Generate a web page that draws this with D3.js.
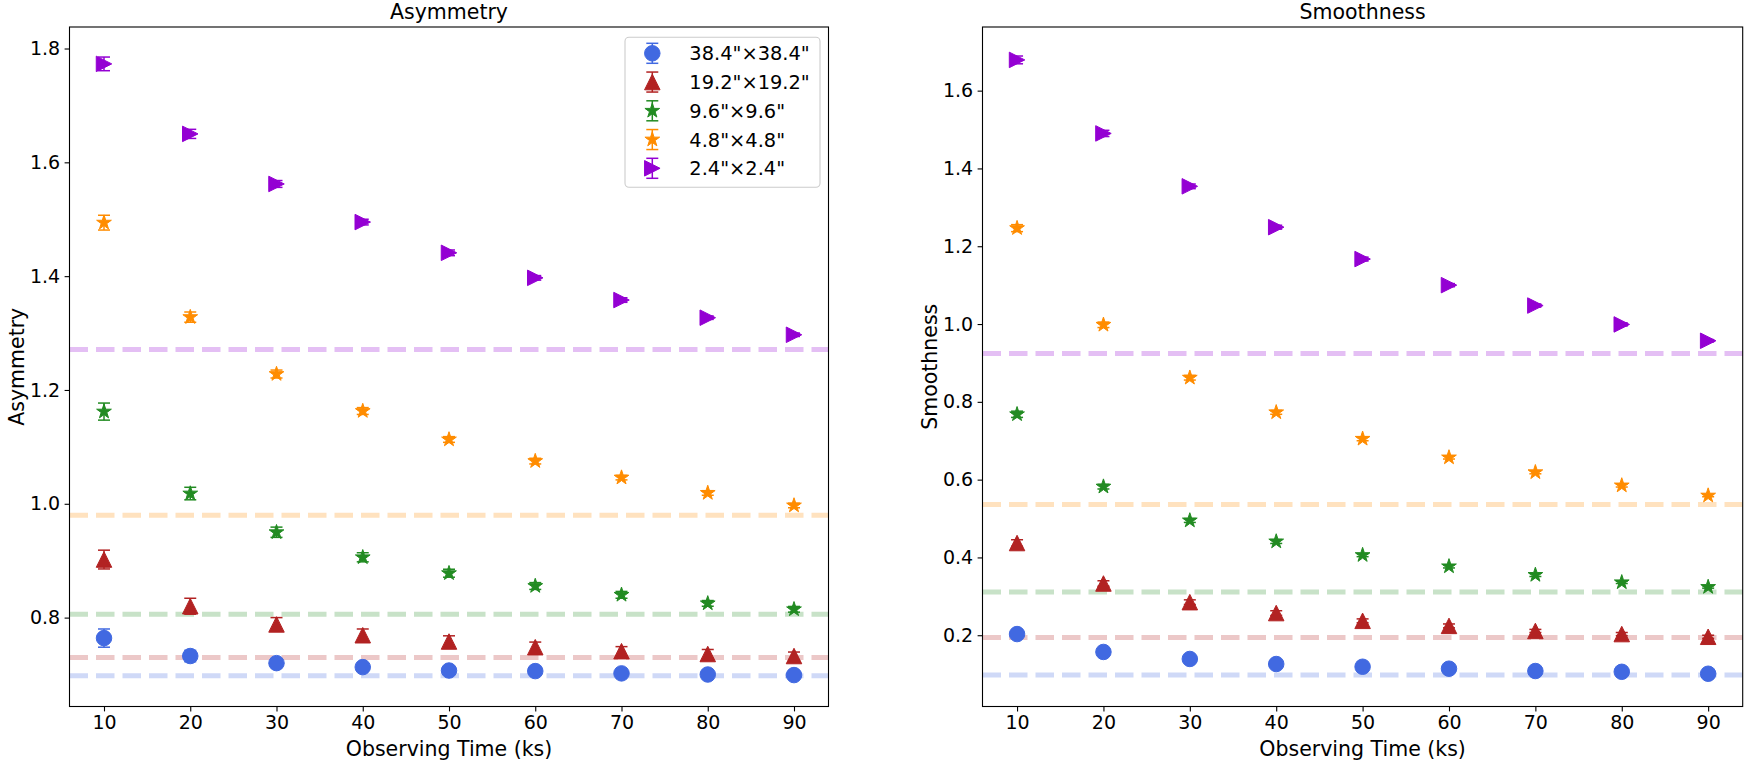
<!DOCTYPE html>
<html>
<head>
<meta charset="utf-8">
<script src="https://cdn.jsdelivr.net/npm/d3@7"></script>
<style>
  body { margin: 0; background: #fff; }
  text { font-family: "DejaVu Sans", sans-serif; fill: #000; }
</style>
</head>
<body>
<script>
 // observing times (ks)
 var times = [10, 20, 30, 40, 50, 60, 70, 80, 90];
 var labels = ['38.4"\u00d738.4"', '19.2"\u00d719.2"', '9.6"\u00d79.6"', '4.8"\u00d74.8"', '2.4"\u00d72.4"'];
 var colors = ['#4169E1', '#B22222', '#228B22', '#FF8C00', '#9400D3'];
 var shapes = ['circle', 'triangleUp', 'star', 'star', 'triangleRight'];
 var xTicks = [10, 20, 30, 40, 50, 60, 70, 80, 90];

 // asymmetry panel
 var asym38 = [0.764, 0.7325, 0.720, 0.713, 0.707, 0.706, 0.702, 0.700, 0.699];
 var asym19 = [0.902, 0.820, 0.788, 0.769, 0.758, 0.748, 0.741, 0.736, 0.7325];
 var asym96 = [1.162, 1.018, 0.950, 0.906, 0.878, 0.8555, 0.840, 0.825, 0.8146];
 var asym48 = [1.494, 1.328, 1.228, 1.163, 1.113, 1.075, 1.046, 1.019, 0.997];
 var asym24 = [1.773, 1.650, 1.562, 1.495, 1.441, 1.397, 1.358, 1.327, 1.297];
 var asymErr38 = [0.016, 0.010, 0.008, 0.007, 0.006, 0.005, 0.005, 0.004, 0.004];
 var asymErr19 = [0.0165, 0.014, 0.012, 0.011, 0.010, 0.009, 0.008, 0.008, 0.007];
 var asymErr96 = [0.015, 0.011, 0.009, 0.008, 0.007, 0.006, 0.006, 0.005, 0.005];
 var asymErr48 = [0.013, 0.009, 0.007, 0.006, 0.005, 0.005, 0.004, 0.004, 0.004];
 var asymErr24 = [0.012, 0.008, 0.006, 0.005, 0.005, 0.004, 0.004, 0.003, 0.003];
 var asymRef = [0.698, 0.730, 0.806, 0.980, 1.271];
 var asymTicks = [0.8, 1.0, 1.2, 1.4, 1.6, 1.8];
 var asymDomain = [0.6438, 1.8378];

 // smoothness panel
 var smooth38 = [0.203, 0.157, 0.139, 0.126, 0.119, 0.114, 0.108, 0.106, 0.101];
 var smooth19 = [0.437, 0.333, 0.285, 0.257, 0.237, 0.224, 0.211, 0.203, 0.196];
 var smooth96 = [0.768, 0.582, 0.495, 0.441, 0.406, 0.377, 0.355, 0.336, 0.324];
 var smooth48 = [1.2465, 0.998, 0.862, 0.773, 0.705, 0.657, 0.619, 0.585, 0.559];
 var smooth24 = [1.679, 1.490, 1.354, 1.249, 1.167, 1.100, 1.0475, 0.999, 0.957];
 var smoothErr38 = [0.006, 0.004, 0.004, 0.003, 0.003, 0.003, 0.002, 0.002, 0.002];
 var smoothErr19 = [0.0085, 0.007, 0.006, 0.006, 0.005, 0.005, 0.004, 0.004, 0.004];
 var smoothErr96 = [0.008, 0.006, 0.005, 0.005, 0.004, 0.004, 0.004, 0.003, 0.003];
 var smoothErr48 = [0.009, 0.007, 0.006, 0.005, 0.005, 0.004, 0.004, 0.004, 0.003];
 var smoothErr24 = [0.010, 0.008, 0.006, 0.005, 0.005, 0.004, 0.004, 0.004, 0.003];
 var smoothRef = [0.098, 0.194, 0.311, 0.536, 0.924];
 var smoothTicks = [0.2, 0.4, 0.6, 0.8, 1.0, 1.2, 1.4, 1.6];
 var smoothDomain = [0.0168, 1.7636];

 var W = 1750, H = 763;
 var plotTop = 27, plotBottom = 706.5;
 var msize = 16.5;
 var tickFont = 19, labelFont = 20.5, legendFont = 19.4;

 var svg = d3.select('body').append('svg')
     .attr('width', W).attr('height', H);

 // matplotlib-like marker outlines, centred on 0,0
 function markerPath(shape, m) {
     var r = m / 2;
     if (shape == 'circle') return d3.arc()({innerRadius: 0, outerRadius: r, startAngle: 0, endAngle: 2 * Math.PI});
     var pts;
     if (shape == 'triangleUp') pts = [[0, -r], [-r, r], [r, r]];
     else if (shape == 'triangleRight') pts = [[r, 0], [-r, -r], [-r, r]];
     else {
	 pts = [];
	 for (var k = 0; k < 10; k++) {
	     var rad = (k % 2 == 0) ? r : r * 0.381966;
	     var a = -Math.PI / 2 + k * Math.PI / 5;
	     pts.push([rad * Math.cos(a), rad * Math.sin(a)]);
	 }
     }
     return d3.line()(pts) + 'Z';
 }

 function drawPanel(p) {
     var g = svg.append('g');
     var x = d3.scaleLinear().domain([6, 94]).range([p.left, p.right]);
     var y = d3.scaleLinear().domain(p.domain).range([plotBottom, plotTop]);

     // reference levels, drawn under the points
     g.selectAll('line.ref')
	 .data(p.refs)
	 .enter().append('line')
	 .attr('class', 'ref')
	 .attr('x1', p.left).attr('x2', p.right)
	 .attr('y1', function(d) { return y(d); })
	 .attr('y2', function(d) { return y(d); })
	 .attr('stroke', function(d, i) { return colors[i]; })
	 .attr('stroke-opacity', 0.25)
	 .attr('stroke-width', 5)
	 .attr('stroke-dasharray', '18.5,8');

     p.series.forEach(function(vals, s) {
	 var errs = p.errs[s];
	 var pts = times.map(function(t, i) { return {t: t, v: vals[i], e: errs[i]}; });
	 var sg = g.append('g').attr('fill', colors[s]).attr('stroke', colors[s]);
	 sg.selectAll('line.bar').data(pts).enter().append('line')
	     .attr('x1', function(d) { return x(d.t); })
	     .attr('x2', function(d) { return x(d.t); })
	     .attr('y1', function(d) { return y(d.v - d.e); })
	     .attr('y2', function(d) { return y(d.v + d.e); })
	     .attr('stroke-width', 1.5);
	 [-1, 1].forEach(function(sign) {
	     sg.selectAll(null).data(pts).enter().append('line')
		 .attr('x1', function(d) { return x(d.t) - 6; })
		 .attr('x2', function(d) { return x(d.t) + 6; })
		 .attr('y1', function(d) { return y(d.v + sign * d.e); })
		 .attr('y2', function(d) { return y(d.v + sign * d.e); })
		 .attr('stroke-width', 1.5);
	 });
	 sg.selectAll('path').data(pts).enter().append('path')
	     .attr('d', markerPath(shapes[s], msize - 1))
	     .attr('stroke-width', 1)
	     .attr('transform', function(d) { return 'translate(' + x(d.t) + ',' + y(d.v) + ')'; });
     });

     // axes
     var xa = g.append('g').attr('transform', 'translate(0,' + plotBottom + ')')
	 .call(d3.axisBottom(x).tickValues(xTicks).tickSize(4.9).tickPadding(4.5).tickFormat(d3.format('d')));
     var ya = g.append('g').attr('transform', 'translate(' + p.left + ',0)')
	 .call(d3.axisLeft(y).tickValues(p.ticks).tickSize(4.9).tickPadding(4.5).tickFormat(d3.format('.1f')));
     [xa, ya].forEach(function(a) {
	 a.select('.domain').remove();
	 a.selectAll('.tick line').attr('stroke', '#000').attr('stroke-width', 1.1);
	 a.selectAll('.tick text').style('font-size', tickFont + 'px').attr('fill', '#000');
     });
     g.append('rect')
	 .attr('x', p.left).attr('y', plotTop)
	 .attr('width', p.right - p.left).attr('height', plotBottom - plotTop)
	 .attr('fill', 'none').attr('stroke', '#000').attr('stroke-width', 1.1);

     g.append('text')
	 .attr('x', (p.left + p.right) / 2).attr('y', 19)
	 .attr('text-anchor', 'middle')
	 .style('font-size', labelFont + 'px')
	 .text(p.title);
     g.append('text')
	 .attr('x', (p.left + p.right) / 2).attr('y', 756)
	 .attr('text-anchor', 'middle')
	 .style('font-size', labelFont + 'px')
	 .text('Observing Time (ks)');
     g.append('text')
	 .attr('transform', 'translate(' + (p.left - 45.5) + ',' + ((plotTop + plotBottom) / 2) + ') rotate(-90)')
	 .attr('text-anchor', 'middle')
	 .style('font-size', labelFont + 'px')
	 .text(p.ylabel);
 }

 drawPanel({left: 69.5, right: 828.5, domain: asymDomain, ticks: asymTicks,
	    series: [asym38, asym19, asym96, asym48, asym24],
	    errs: [asymErr38, asymErr19, asymErr96, asymErr48, asymErr24],
	    refs: asymRef, title: 'Asymmetry', ylabel: 'Asymmetry'});
 drawPanel({left: 982.5, right: 1742.7, domain: smoothDomain, ticks: smoothTicks,
	    series: [smooth38, smooth19, smooth96, smooth48, smooth24],
	    errs: [smoothErr38, smoothErr19, smoothErr96, smoothErr48, smoothErr24],
	    refs: smoothRef, title: 'Smoothness', ylabel: 'Smoothness'});

 // legend (left panel only)
 var leg = svg.append('g');
 leg.append('rect')
     .attr('x', 625).attr('y', 37.3).attr('width', 195).attr('height', 150)
     .attr('rx', 4).attr('fill', '#fff').attr('fill-opacity', 0.8)
     .attr('stroke', '#cccccc').attr('stroke-width', 1.1);
 var rowY = d3.scaleLinear().domain([0, 4]).range([53.3, 168.3]);
 labels.forEach(function(lab, i) {
     var cy = rowY(i);
     var row = leg.append('g').attr('stroke', colors[i]).attr('fill', colors[i]);
     row.append('line').attr('x1', 652.3).attr('x2', 652.3).attr('y1', cy - 10).attr('y2', cy + 10).attr('stroke-width', 1.5);
     row.append('line').attr('x1', 646.3).attr('x2', 658.3).attr('y1', cy - 10).attr('y2', cy - 10).attr('stroke-width', 1.5);
     row.append('line').attr('x1', 646.3).attr('x2', 658.3).attr('y1', cy + 10).attr('y2', cy + 10).attr('stroke-width', 1.5);
     row.append('path').attr('d', markerPath(shapes[i], msize - 1)).attr('stroke-width', 1)
	 .attr('transform', 'translate(652.3,' + cy + ')');
     leg.append('text').attr('x', 689.3).attr('y', cy + 7)
	 .style('font-size', legendFont + 'px')
	 .text(lab);
 });
</script>
</body>
</html>
